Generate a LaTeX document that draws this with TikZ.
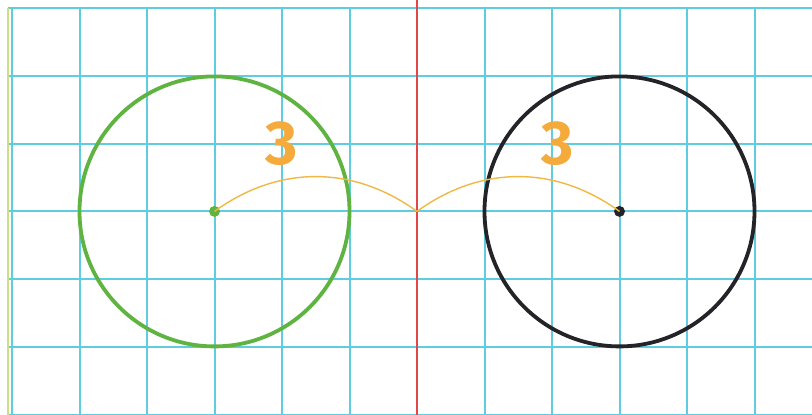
\documentclass[tikz,border=0pt]{standalone}
\usepackage{fontspec}
\newfontfamily\digitfont{Fira Sans}
\definecolor{gridcyan}{RGB}{95,205,225}
\definecolor{redline}{RGB}{225,70,75}
\definecolor{circgreen}{RGB}{95,180,65}
\definecolor{circblack}{RGB}{35,35,40}
\definecolor{arcorange}{RGB}{240,185,70}
\definecolor{digitorange}{RGB}{245,170,60}
\definecolor{edgegreen}{RGB}{200,225,130}
\begin{document}
\begin{tikzpicture}[x=1pt,y=-1pt,
  gridline/.style={gridcyan,line width=2pt},
  circline/.style={line width=3.8pt},
  centerdot/.style={circle,inner sep=0pt,minimum size=11pt},
  distarc/.style={arcorange,line width=1.4pt},
  distlabel/.style={text=digitorange,font=\digitfont\bfseries\fontsize{62}{62}\selectfont,inner sep=0pt}]
\useasboundingbox (0,0) rectangle (812,415);
\fill[white] (0,0) rectangle (812,415);
% grid
\foreach \k in {0,...,6}
  \draw[gridline] (8,{8+67.8*\k}) -- (812,{8+67.8*\k});
\foreach \k in {0,...,5,7,8,9,10,11}
  \draw[gridline] ({12+67.5*\k},8) -- ({12+67.5*\k},415);
\draw[edgegreen,line width=1.5pt] (8,8) -- (8,415);
\draw[redline,line width=2.6pt] (417,0) -- (417,415);
\coordinate (m) at (417,211.4);
% circles
\draw[circgreen,circline] (214.5,211.4) circle (135);
\draw[circblack,circline] (619.5,211.4) circle (135);
\node[centerdot,fill=circgreen] (gc) at (214.5,211.4) {};
\node[centerdot,fill=circblack] (bc) at (619.5,211.4) {};
% distance arcs
\draw[distarc] (gc.center) to[bend left=36] (m);
\draw[distarc] (m) to[bend left=36] (bc.center);
% labels
\node[distlabel] (l1) at (282,144) {3};
\node[distlabel] (l2) at (558,144) {3};
\end{tikzpicture}
\end{document}
